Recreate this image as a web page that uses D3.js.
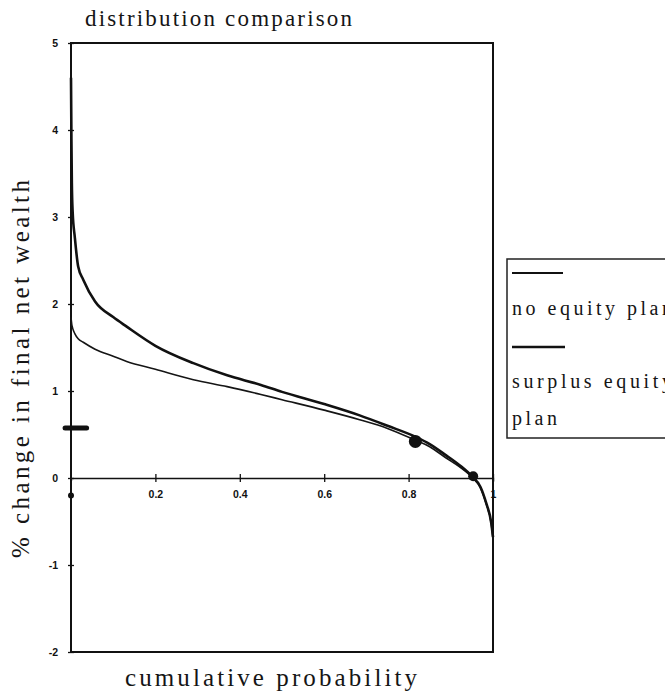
<!DOCTYPE html>
<html>
<head>
<meta charset="utf-8">
<script src="https://cdn.jsdelivr.net/npm/d3@7"></script>
<style>
  body { margin: 0; background: #fff; }
  svg { display: block; }
  .tick text { font-family: "Liberation Sans", Arial, sans-serif; font-weight: bold; font-size: 10.5px; fill: #111; }
  .serif { font-family: "Liberation Serif", "DejaVu Serif", serif; fill: #151515; }
</style>
</head>
<body>
<svg width="665" height="694"></svg>
<script>
// cumulative probability grid
const prob = [0, 0.001, 0.002, 0.004, 0.009, 0.017, 0.029, 0.057, 0.1, 0.132, 0.2, 0.29, 0.37, 0.45, 0.5, 0.6, 0.684, 0.75, 0.818, 0.85, 0.889, 0.92, 0.952, 0.97, 0.984, 0.996, 1.0];
// % change in final net wealth
const surplusEquity = [4.6, 3.9, 3.4, 3.05, 2.77, 2.43, 2.28, 2.03, 1.85, 1.74, 1.52, 1.32, 1.18, 1.07, 0.99, 0.85, 0.72, 0.6, 0.47, 0.39, 0.26, 0.15, 0.01, -0.1, -0.29, -0.52, -0.68];
const noEquity = [1.85, 1.8, 1.76, 1.72, 1.66, 1.6, 1.56, 1.48, 1.4, 1.34, 1.25, 1.13, 1.05, 0.96, 0.9, 0.78, 0.67, 0.57, 0.43, 0.36, 0.23, 0.13, 0.0, -0.11, -0.3, -0.53, -0.7];

const yTicks = [-2, -1, 0, 1, 2, 3, 4, 5];
const xTicks = [0.2, 0.4, 0.6, 0.8, 1];

// stray marks in the scanned figure
const dots = [[0.816, 0.42], [0.953, 0.02], [0, -0.2]];
const dash = [[-0.014, 0.575], [0.037, 0.575]];

const legendLabels = ["no equity plan", "surplus equity", "plan"];

const svg = d3.select("svg");
svg.append("rect").attr("width", 665).attr("height", 694).attr("fill", "#fff");

let x = d3.scaleLinear().domain([0, 1]).range([71, 493]);
let y = d3.scaleLinear().domain([-2, 5]).range([652, 43]);

// frame
svg.append("rect")
  .attr("x", x(0)).attr("y", y(5))
  .attr("width", x(1) - x(0)).attr("height", y(-2) - y(5))
  .attr("fill", "none").attr("stroke", "#111").attr("stroke-width", 2);

// y axis
let yAxis = d3.axisLeft(y).tickValues(yTicks).tickSizeOuter(0).tickSize(3)
  .tickFormat(d => String(d));
let gy = svg.append("g").attr("transform", `translate(${x(0)},0)`).call(yAxis);
gy.select(".domain").remove();
gy.selectAll(".tick line").attr("x1", 3).attr("x2", -3).attr("stroke", "#111").attr("stroke-width", 1.3);
gy.selectAll(".tick text").attr("x", -13).attr("dy", "0.35em");

// x axis along zero
let xAxis = d3.axisBottom(x).tickValues(xTicks).tickSizeOuter(0).tickSize(3)
  .tickFormat(d => d === 1 ? "1" : d.toFixed(1));
let gx = svg.append("g").attr("transform", `translate(0,${y(0)})`).call(xAxis);
gx.select(".domain").attr("stroke", "#111").attr("stroke-width", 1.3);
gx.selectAll(".tick line").attr("y1", -4).attr("y2", 4).attr("stroke", "#111").attr("stroke-width", 1.3);
gx.selectAll(".tick text").attr("y", 13);

// curves
let line = d3.line()
  .x((d, i) => x(prob[i]))
  .y(d => y(d))
  .curve(d3.curveMonotoneX);

svg.append("path").datum(noEquity)
  .attr("d", line).attr("fill", "none")
  .attr("stroke", "#151515").attr("stroke-width", 1.6);

svg.append("path").datum(surplusEquity)
  .attr("d", line).attr("fill", "none")
  .attr("stroke", "#111").attr("stroke-width", 2.6);

// marks
svg.append("path").datum(dash)
  .attr("d", d3.line().x(d => x(d[0])).y(d => y(d[1])))
  .attr("stroke", "#111").attr("stroke-width", 5).attr("stroke-linecap", "round");

svg.selectAll("circle.dot").data(dots).enter().append("circle")
  .attr("class", "dot")
  .attr("cx", d => x(d[0])).attr("cy", d => y(d[1]))
  .attr("r", (d, i) => [6.5, 5, 3][i])
  .attr("fill", "#111");

// titles
svg.append("text").attr("class", "serif")
  .attr("x", 85).attr("y", 26)
  .attr("textLength", 267).attr("lengthAdjust", "spacing")
  .style("font-size", "23px").text("distribution comparison");

svg.append("text").attr("class", "serif")
  .attr("x", 125).attr("y", 686)
  .attr("textLength", 292).attr("lengthAdjust", "spacing")
  .style("font-size", "25px").text("cumulative probability");

svg.append("text").attr("class", "serif")
  .attr("transform", "translate(29,558) rotate(-90)")
  .attr("textLength", 378).attr("lengthAdjust", "spacing")
  .style("font-size", "25px").text("% change in final net wealth");

// legend
let lg = svg.append("g");
lg.append("rect").attr("x", 507).attr("y", 259).attr("width", 170).attr("height", 179)
  .attr("fill", "#fff").attr("stroke", "#222").attr("stroke-width", 1.5);
lg.append("line").attr("x1", 512).attr("x2", 563).attr("y1", 273).attr("y2", 273)
  .attr("stroke", "#111").attr("stroke-width", 1.8);
lg.append("line").attr("x1", 512).attr("x2", 565).attr("y1", 347).attr("y2", 347)
  .attr("stroke", "#111").attr("stroke-width", 2.4);
lg.selectAll("text").data(legendLabels).enter().append("text")
  .attr("class", "serif")
  .attr("x", 512)
  .attr("y", (d, i) => [315, 388, 425][i])
  .attr("textLength", (d, i) => [160, 160, 45][i]).attr("lengthAdjust", "spacing")
  .style("font-size", "20px")
  .text(d => d);
</script>
</body>
</html>
